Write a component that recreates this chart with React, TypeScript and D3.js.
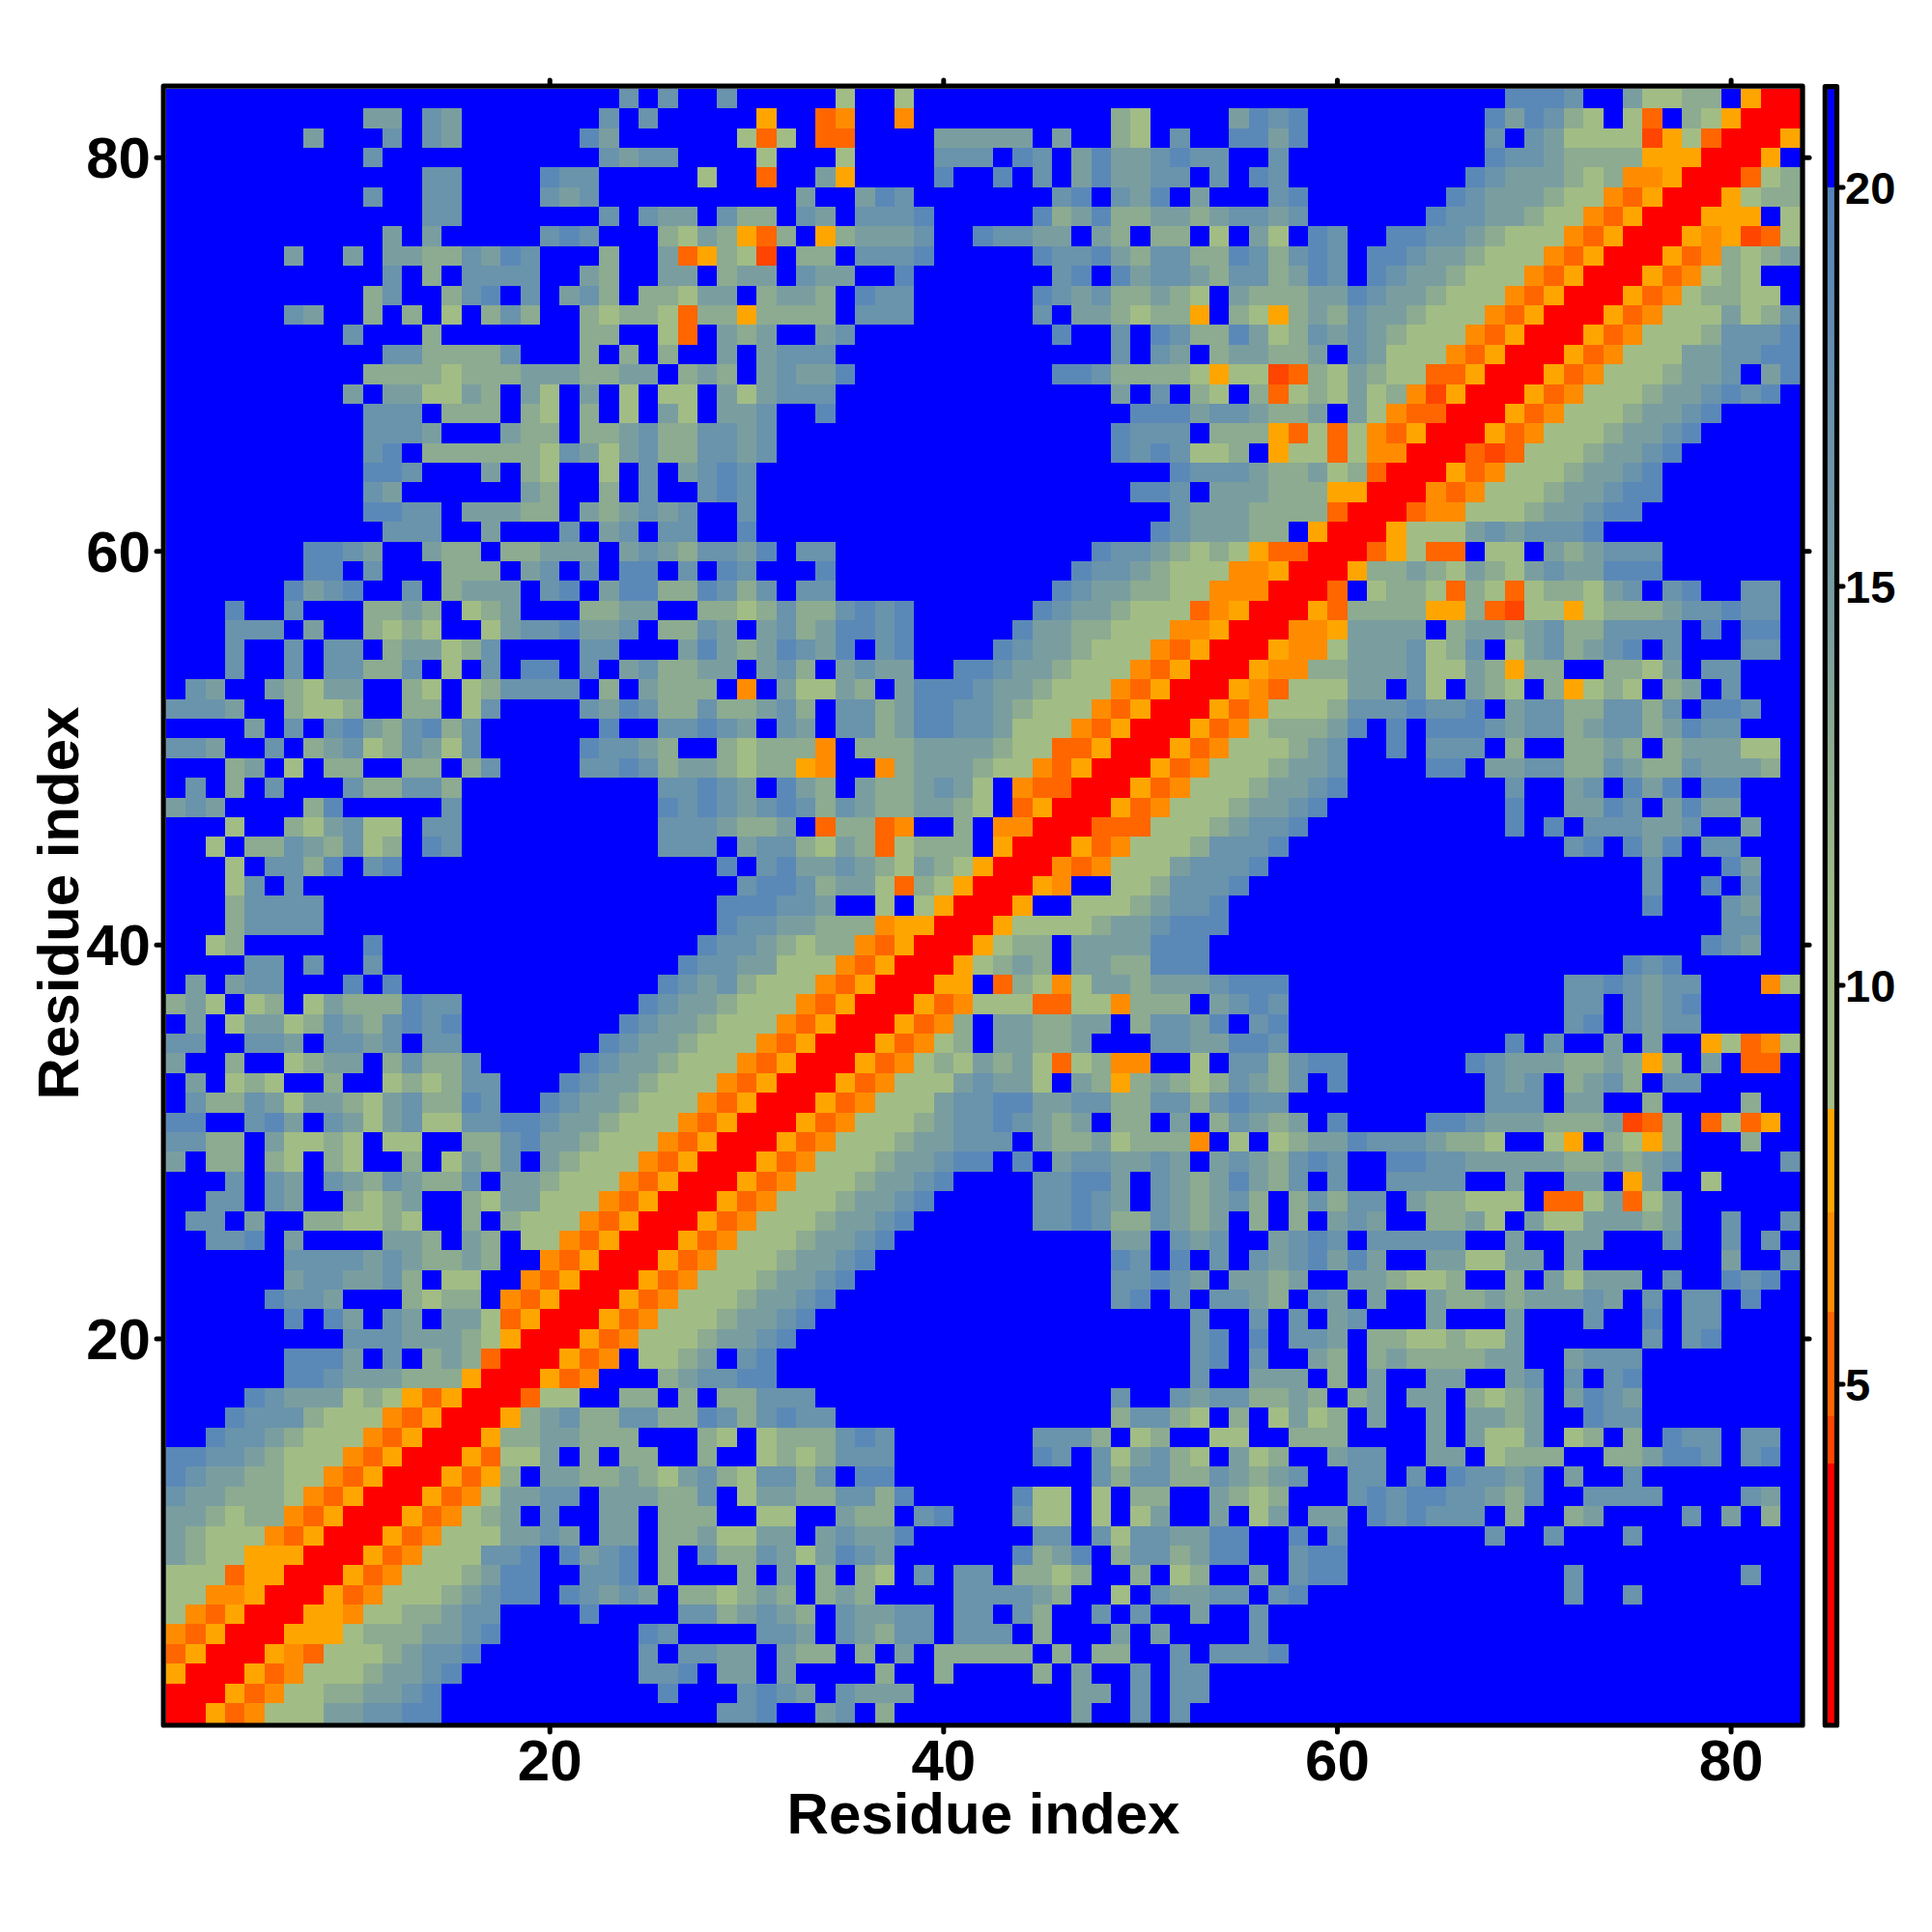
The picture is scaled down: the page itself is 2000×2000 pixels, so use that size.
import React from "react";
import * as d3 from "d3";

// Distance classes read per cell, top row (residue 83) first; spaces only separate blocks of columns.
const distanceRows: string[] = [
"....................... b.b.. b.....e..e.................. ............aaab..ceedd.orr",
"..........cc.bc.......b.b... ..o..mn..n..........de....ca ba.........acabde.em.deorrr",
".......c...b.bc......ac..... .eme.mm....ccccc.c..de.b..aa ca.........b.bceeeekoemrrro",
"..........b...........bcbb.. ..e...e....bbb.ab.caccbabb.. b..........abbcddddooorrro.",
".............bb....abb.....e ..m..co....a..a.b.caccbb.b.a b.........abcccdednnorrrmed",
"..........b..bb....bcb...... ....c..cab.......ba.bca.c... ba.......abcccdeenmorrroedd",
".............bb.......b.bcc. bdd.bc.bbba.....adcaddccdcbb cb......abbccdeenmorrrooo.e",
"...........c.c.....bab...dec domd.odcccb..abbcc.cd.dd.e.c e.ab..aabbcdeeenmorrronokme",
"......c..c.ccddbcab...d..cmo dek.dd.bbba.....abbacdbbddab dbab.aabccdeeenmorrromndedc",
"...........b.d.bbbb..cd..cc. dcc.bcc..a.......ba.acbbcdbb dcab.abccdeeenmorrromnede..",
"..........db..dba.b.cbd.ddec c.dccd.abb......abcbddcde.cd ddccabccdeeenmorrromneddee.",
"......bc..d.d.e.dbd..deddemd dodddd.bbb......b.ccdeddo.de odcdbccdeeenmorrromneeecedb",
".........b...d.......dd..em. cdc..cb..........a..b.abddac edbcbcdeeenmorrromneeedbbba",
"...........bbddddb...d.d.d.. c.cbbb..............b.bc.dcc ddc.bceeenmorrromneeeccbbaa",
"..........ddddedddcccddcc.dc d.cbcca..........aabddddeoee kmdecdeemmorrromneeedccb.ca",
".........c.cceecd.ce.c.e.ee. cecbbb..............c.b.de.d medecednkorrromneeedccbaba.",
"..........bbb.ddd.de.d.e.ce. ccb..a...............aaacbbc ddc.cenmmrrromneeedccba....",
"..........bbbc...cdd.ddcbddb bcb.................abbb.ddd omemenmorrromneeedccba.....",
"..........ba.ddddddebcecbddb bcb.................ababeed. oeemennrrrmkmeeedccba......",
"..........aab...c.de..e.b.cb ab.....................abbbc ddcedmrrromneeedccba.......",
"..........bc......cd..d.b..b ab...................aab.ccc dddoorrrnmneeedccbaa.......",
"..........aabb.cccdd.cdcbcb. .b.....................bcccd dddmrrrmnneeedccbaa........",
"...........bbb..c...b.cb.bb. .a....................abcccd d.orrroeeecbcbbba..........",
".......aabc..cdd.ddccc.cbcdb bca.bb.............abbcdedeo mmrrrmoemm.ee.cdcbbb.......",
".......aa.b...ddd.cb.b.aa.b. ab...a............abbcdeeenn orrroddcdecdecbccaaa.......",
"......acba..b.dccc.ba.caadda bdb.bb...........abccddeennn rrrm.eddemdemeddecb.ba..bb.",
"...a..b...ddcd.edc...ddcc..d dedbddbaba......abccdeeemnor rromddddoodmkeeoedddcbbabb.",
"...bbb.c..dede..ecbbaccb.ddb c.cbdcaaba.....accddeeennorr rnnocccc.dccdcbddbbbb.a.aa.",
"...b..b.bb.dccedb....bb...ca cdcabca.ba....abccdeeenmorrr onnecccbedb.ecbdcba.b...bb.",
"...b..b.bbddb.e.b.aa.b.cbddc c.cbd.cbcc..aabccdeeenmorrro nnddcccbeecdodd..ddec.bb...",
".bc..cdecc..de.edbbbb.d.cddd .n.ceecd.caaabccdeeenmorrron meeecc.be.cde.doede.dc.b...",
"bbbc..deed..dd.eb....bcabddb ddcbd.bbdcaabbcdeeenmorrromn eeedbbbabba.cbbddbbdb.aab..",
"....c.b.bacdbadb......a..bba bc.bc.bbdcaabbceeenmorrromne dddca.a.aaabcbbdcbbdcabb...",
"bbc..b.dcbedbceb.....abbcd.. dedddn.dddccccdeemmorrromnee edcb..a.bbb.d..ddcd.dcccee.",
"...dc.e.dd..dd.db....bbabdcc deddon..ndcccdeenmorrromneee dccb....aa.ccbbddbcddbcccd.",
".b.d.b...bddbbd..........bba bc.acd.cddcbce.nmmrrromneeed ccba........b..cb.aca.aa...",
"cbc....da.....b..........aba bcbabdbcddccde.morrromneeedc cba.........a..ccab.cacc...",
"...e..decbee.bb..........bbb cddc.mddmn..d.nnrrrmmmeeedcb ba..........a.a.bbbccb..c..",
"..e.ddbcdbed.ab..........bbb .cbbdecdmeddd.orrromneeedbbb a..............ba.aca.bb...",
"...e.bbda.ba................ a.baccbcdecdeorrrnmneeecbbba ...................b...ac..",
"...eb.b..................... .baabdccemdeorrron..eedbbba. ...................b..a.b..",
"...dbbbb.................... aaabbc..e.eorrro..eeedcbba.. ...................a...bc..",
"...dbbbb.................... abbccdddnoorrroeeeedccbaaa.. .......................bb..",
"..ed......a................a bbcdeddnmorrroedd.ccccaaa... ......................abc..",
"....bb.b..b...............ab bcceeenmorrroedcd.ccddaaa... ..................aba......",
".c.cbb...a.a.............abc bdeeenmorrroo.mdeneccdcccbaa a..............bbabcbb...ne",
"dce.ed.ecdddabb.........abcc deeenmorrromneeemmeenddd.cba b..............bb.bcba.....",
".c.eccedbcdbaba........abccd eeenmorrromnd.ccddcc.dbbca.b a..............ba.bcbb.....",
"bb..bbc.bbcb.bb.......abccde eenmorrromned.ccddc...bbccaa b...........a.b..c.c..oemne",
"c..d..edcc.dbddb.....abccdee enmorrromnedecdcemednn..e.bb dbaa......abcccddcdod.c.mm.",
".c.ede..d..ededbb...abccdeee nmorrromneeecbcce.cdodcdedbc db.a.......bcb.dcbd.bb.....",
".bddbceccdecbddab..abccdeeen morrromneeecbbaaccbbddbbdbab b..........bbb.cc..d....d..",
"aa..bac.bcecbeebbaabccdeeenm orrromneeedcbbabcdc.dd.c.dbc dc.a....aabcccdddckmd.memo.",
"bbdd.ceede.ee..ddbaccdeeenmo rrromneeedccbbb.cddcedddn.e. edccabbbcdde..eo.deod...d..",
"c.dd.de.de..d.ecdb.cdeeenmor rromneeedccbaa.a.cbbccbc.cbc dbab..aabbcccccddcdcb.....b",
"...b.bc.bcdbcddb.ccdeeenmorr romneeedccba....bbaac.bcdcac db.b..bbbb..c..cc.oc..e....",
"..bb.bc..dedc..decceeenmorrr omneeedccba.....bbabc.bcdcbd .dbdbb.cddeee.mmecmec......",
".bb.c..ddeede..d.deeenmorrro mneeedccba......bbabddbcdc.d .d.cbc..ddce.ceecccdc..b..b",
"..bba.c....ccd.cd.eenmorrrom neeedccba...........cc.bcb.. cbab.bbbbb..c..cc...b..b.b.",
"......bbbbcbcddcd..nmorrromn eeedccba............ab.a.b.b cbacac..cceecc.c.......c..b",
"......cbbccbd.ee..nmorrromne eedccba.............bbabc.cc dc..ccdeed..d.ceccc.b..aba.",
".....abbc...dedd.nmorrromnee edccba..............ba.b.bbc d.bc.c..cddcdcccbc.b.bb.a..",
"......a.ac.bc.ccemorrromneee dccba...................b..b .b.cb...c...c...b..a.bb....",
".........bbbcccdeorrromneeed ccba....................ba.a .bbc.ddeedeec......b.ba....",
"......aaac.b.dcdmrrromn.eedc .ba.....................ba.b ..cd.dcddddcc..cbbb........",
"......aabcccdddorrromn...dcb baa.....................b..c cc.d.c..cc..cb.b.ba........",
"....abcccedeomorrrmee..dd.d. ddbbb...............b..bcbbd dcd.dc.cc.dedc.cabc........",
"...abbbdeeenmorrrodcbddbbdda bdbabb..............dbbde.d. eced.c..c.ccdc..abb........",
"..abbcdeeenmorrroddccddd...d e.edddbab.......bbbd.ed..ee. .ddd....c.ceec.ed.d.abb.bb.",
"aabbcdeeenmorrromeec.d.dd..d ..ededbbb.......ab.becbde.ce d..cbb..cc.eddd..ddcaab.ba.",
"abccddeenmorrromod.ccddcdecb debbdb.aa..........bdbbddbcd cb..bb.b.abbcb.c..b........",
"bccdddenmorrromneccbb.cccddb .eccddbbda.....aee.e.dd..cde d...babaabbcdb..bbbb....bc.",
"ccdeddnmorrromnedc.b..cc.ddd ..ee..cdd.ba...bee.e.ec..c.e c.cc.ababbb.d..dc....b.c.d.",
"cdeeenmorrromneeeccbc.cc.ddc eecc.cbcca......bb.bebbccaa. .a.b.......b..b...b........",
"cdeeooorrromneeebba.acba.d.b ddbcecabc......adca.dbbdcaa. .baa.......................",
"eeemoorrromneeedcaa..bba.d.. .d.c.d.de.b.bb.dded..d.ed..c .baa...........b........b..",
"eennorrromneeedcbaa.abcbc.dd edcd.dcd....bbbbcd..e.bccbb. ba.............b..b........",
"enmorrrooneeddcbb....a....bb dcbcd.bccbb.bb.bd..b.b..c..b ...........................",
"nmorrroooedddccba.......ab.. ..bbc.bcdbb.bbb.d...c.c....b ...........................",
"morrronmeeedcbba........b.bb cc.cdd.d.c.ddddd.d.dd..b.bbb a..........................",
"orrromneeedccba.........bba. cc.c....d..d....d.c..b.bb... ...........................",
"rrromneeddccba...........a.. .babc.bccc........cc.b.bb... ...........................",
"rromneeeccbbaa.............. bba..cb.d.........c..b.b.... ...........................",
];

// Representative distance (Angstrom) for each class letter.
const classValues: Record<string, number> = { r: 2.5, k: 4.3, m: 5.2, n: 6.5, o: 7.8, e: 10, d: 13, c: 14.5, b: 17, a: 19, ".": 21 };

const warmThresholds = [4.0, 4.6, 5.88, 7.16, 8.44];
const warmColors = ["#ff0000", "#ff4500", "#ff6600", "#ff8c00", "#ffa500"];
const coolStops = [8.44, 11, 13, 14.5, 17, 20];
const coolColors = ["#a4be84", "#a0bb86", "#8cab90", "#7a9ea0", "#6a93ac", "#5484bc"];

const axisTicks = [20, 40, 60, 80];
const barTicks = [5, 10, 15, 20];
const axisTitle = "Residue index";

const warm = d3.scaleThreshold<number, string>().domain(warmThresholds.slice(0, 4)).range([...warmColors, "#000"]);
const cool = d3.scaleLinear<string>().domain(coolStops).range(coolColors).interpolate(d3.interpolateRgb);
const colorOf = (v: number) => (v >= 20 ? "#0000ff" : v >= 8.44 ? cool(v) : v < 4 ? "#ff0000" : warm(v));

const x = d3.scaleLinear().domain([0.5, 83.5]).range([171.8, 1863.4]);
const y = d3.scaleLinear().domain([0.5, 83.5]).range([1783.4, 91.8]);
const barY = d3.scaleLinear().domain([20, 10]).range([194, 1020]);
const barValues = d3.range(0.76, 21.24, 0.05);

const font = "'Liberation Sans', Arial, sans-serif";

export default function App() {
  const matrix = distanceRows.map((r) => r.replace(/ /g, "").split("").map((c) => classValues[c] ?? 21));
  const n = matrix.length;
  return (
    <svg width={2000} height={2000} viewBox="0 0 2000 2000" style={{ position: "absolute", left: 0, top: 0, background: "#fff" }}>
      <g shapeRendering="crispEdges">
        {matrix.map((row, i) =>
          row.map((v, j) => {
            const res = j + 1;
            const rowVal = n - i;
            return (
              <rect
                key={`${i}-${j}`}
                x={x(res - 0.5)}
                y={y(rowVal + 0.5)}
                width={x(res + 0.5) - x(res - 0.5) + 0.5}
                height={y(rowVal - 0.5) - y(rowVal + 0.5) + 0.5}
                fill={colorOf(v)}
              />
            );
          })
        )}
      </g>
      <rect x={169.2} y={89.2} width={1696.8} height={1696.8} fill="none" stroke="#000" strokeWidth={5.2} strokeLinejoin="round" />
      <g stroke="#000" strokeWidth={5} strokeLinecap="round">
        {axisTicks.map((t) => (
          <g key={t}>
            <line x1={x(t)} x2={x(t)} y1={1788} y2={1793} />
            <line x1={x(t)} x2={x(t)} y1={87} y2={83} />
            <line y1={y(t)} y2={y(t)} x1={166} x2={162} />
            <line y1={y(t)} y2={y(t)} x1={1869} x2={1873} />
          </g>
        ))}
      </g>
      <g fontFamily={font} fontWeight="bold" fontSize={60} fill="#000">
        {axisTicks.map((t) => (
          <text key={`x${t}`} x={x(t)} y={1843} textAnchor="middle">{t}</text>
        ))}
        {axisTicks.map((t) => (
          <text key={`y${t}`} x={156} y={y(t) + 21} textAnchor="end">{t}</text>
        ))}
        <text x={1018} y={1898} textAnchor="middle">{axisTitle}</text>
        <text transform="translate(81,935) rotate(-90)" textAnchor="middle">{axisTitle}</text>
      </g>
      <g shapeRendering="crispEdges">
        {barValues.map((v) => (
          <rect key={v} x={1892} y={barY(v + 0.05)} width={7} height={barY(v) - barY(v + 0.05) + 0.6} fill={colorOf(v)} />
        ))}
      </g>
      <rect x={1889.3} y={89.7} width={12.2} height={1696.3} fill="none" stroke="#000" strokeWidth={5.2} strokeLinejoin="round" />
      <g stroke="#000" strokeWidth={5} strokeLinecap="round">
        {barTicks.map((t) => (
          <line key={t} x1={1904} x2={1908} y1={barY(t)} y2={barY(t)} />
        ))}
      </g>
      <g fontFamily={font} fontWeight="bold" fontSize={47} fill="#000">
        {barTicks.map((t) => (
          <text key={t} x={1910} y={barY(t) + 17}>{t}</text>
        ))}
      </g>
    </svg>
  );
}
